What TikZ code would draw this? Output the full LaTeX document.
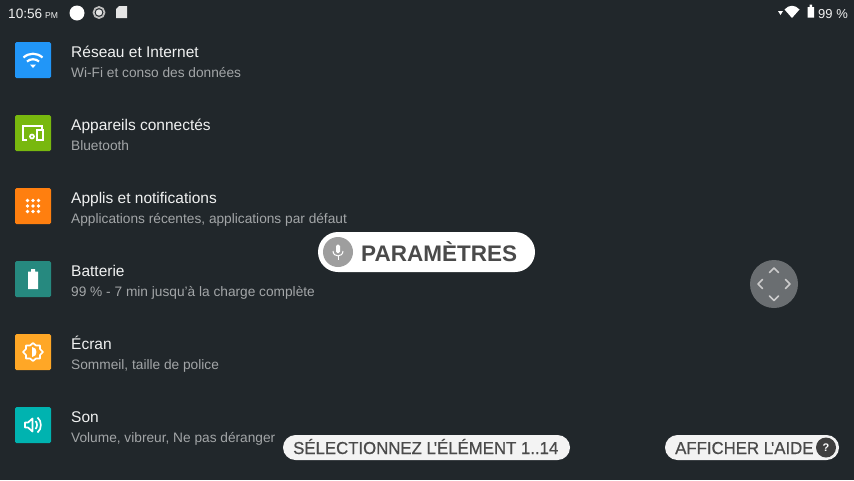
\documentclass[tikz,border=0pt]{standalone}
\usepackage{tikz, xcolor}
\usepackage{fontspec}
\setmainfont{Liberation Sans}
\newfontfamily\pillfont[FakeStretch=0.97,FakeBold=0.6]{Liberation Sans}
\definecolor{screenbg}{HTML}{21272B}
\definecolor{titlecol}{HTML}{F0F1F1}
\definecolor{subcol}{HTML}{A3A6A8}
\definecolor{pillcol}{HTML}{F3F3F3}
\definecolor{pilltext}{HTML}{4A4A4A}
\definecolor{wifiblue}{HTML}{2196F8}
\definecolor{devgreen}{HTML}{78B80E}
\definecolor{appsorange}{HTML}{FF7F0F}
\definecolor{battteal}{HTML}{26897F}
\definecolor{screenamber}{HTML}{FFA726}
\definecolor{soundcyan}{HTML}{00B3B0}
\tikzset{
    iconbox/.style={rounded corners=1.5, minimum width=36, minimum height=36, inner sep=0},
    titletext/.style={anchor=base west, inner sep=0, text=titlecol, font=\fontsize{15.5}{17}\selectfont},
    subtext/.style={anchor=base west, inner sep=0, text=subcol, font=\fontsize{13.7}{15}\selectfont},
    pilltxt/.style={anchor=base west, inner sep=0, text=pilltext, font=\pillfont\fontsize{17.3}{20}\selectfont},
    chev/.style={draw=white!80!black, line width=1.7, line cap=round, line join=round},
    icondraw/.style={draw=white, line width=2.2},
}
\begin{document}
\begin{tikzpicture}[x=1pt, y=-1pt]
    \fill[screenbg] (0,0) rectangle (854,480);
    \useasboundingbox (0,0) rectangle (854,480);

    % status bar
    \node[anchor=base west, inner sep=0, text=titlecol, font=\fontsize{13.6}{15}\selectfont] (clock) at (8,18) {10:56};
    \node[anchor=base west, inner sep=0, text=titlecol, font=\fontsize{8.6}{10}\selectfont] (ampm) at (45,18) {PM};
    \fill[white] (77,13) circle (7.5);
    \draw[white!75!black, line width=1.8] (99,12.5) circle (5.5);
    \fill[white!90!black] (99,12.5) circle (3.2);
    \fill[white!90!black] (116,9) -- (119,6) -- (127,6) -- (127,18) -- (116,18) -- cycle;
    \fill[white] (778,11) -- (783,11) -- (780.5,15) -- cycle;
    \fill[white] (784.5,9.5) .. controls (789,4.5) and (795,4.5) .. (799.5,9.5) -- (792,18) -- cycle;
    \fill[white] (807.5,7) -- (809.5,7) -- (809.5,4.5) -- (812,4.5) -- (812,7) -- (814,7) -- (814,17.5) -- (807.5,17.5) -- cycle;
    \node[anchor=base west, inner sep=0, text=titlecol, font=\fontsize{13}{15}\selectfont] (level) at (818,18) {99 \%};

    % settings rows
    \node[iconbox, fill=wifiblue] (wifi) at (33,60) {};
    \node[titletext] (wifit) at (71,57) {Réseau et Internet};
    \node[subtext] (wifis) at (71,77) {Wi-Fi et conso des données};

    \node[iconbox, fill=devgreen] (dev) at (33,133) {};
    \node[titletext] (devt) at (71,130) {Appareils connectés};
    \node[subtext] (devs) at (71,150) {Bluetooth};

    \node[iconbox, fill=appsorange] (apps) at (33,206) {};
    \node[titletext] (appst) at (71,203) {Applis et notifications};
    \node[subtext] (appss) at (71,223) {Applications récentes, applications par défaut};

    \node[iconbox, fill=battteal] (batt) at (33,279) {};
    \node[titletext] (battt) at (71,276) {Batterie};
    \node[subtext] (batts) at (71,296) {99 \% - 7 min jusqu'à la charge complète};

    \node[iconbox, fill=screenamber] (scr) at (33,352) {};
    \node[titletext] (scrt) at (71,349) {Écran};
    \node[subtext] (scrs) at (71,369) {Sommeil, taille de police};

    \node[iconbox, fill=soundcyan] (snd) at (33,425) {};
    \node[titletext] (sndt) at (71,422) {Son};
    \node[subtext] (snds) at (71,442) {Volume, vibreur, Ne pas déranger};

    % wifi glyph
    \draw[icondraw] (23.5,57.5) .. controls (29,52.5) and (37,52.5) .. (42.5,57.5);
    \draw[icondraw] (27,61.5) .. controls (30.5,58.5) and (35.5,58.5) .. (39,61.5);
    \fill[white] (30,64.5) -- (36,64.5) -- (33,68) -- cycle;

    % devices glyph
    \draw[white, line width=1.7] (27,140) -- (23,140) -- (23,126) -- (42,126) -- (42,129);
    \draw[white, line width=1.7] (37,130) rectangle (43,140);
    \draw[white, line width=1.7] (32,136.5) circle (2);

    % apps glyph
    \fill[white] (27.5,200.5) circle (1.9);
    \fill[white] (33,200.5) circle (1.9);
    \fill[white] (38.5,200.5) circle (1.9);
    \fill[white] (27.5,206) circle (1.9);
    \fill[white] (33,206) circle (1.9);
    \fill[white] (38.5,206) circle (1.9);
    \fill[white] (27.5,211.5) circle (1.9);
    \fill[white] (33,211.5) circle (1.9);
    \fill[white] (38.5,211.5) circle (1.9);

    % battery glyph
    \fill[white] (28,271.5) -- (31,271.5) -- (31,269) -- (35,269) -- (35,271.5) -- (38,271.5) -- (38,289) -- (28,289) -- cycle;

    % brightness glyph
    \draw[white, line width=1.7, line join=round] (33,343) -- (36,345.5) -- (40,345.5) -- (40,349) -- (43,352) -- (40,355) -- (40,358.5) -- (36,358.5) -- (33,361) -- (30,358.5) -- (26,358.5) -- (26,355) -- (23,352) -- (26,349) -- (26,345.5) -- (30,345.5) -- cycle;
    \fill[white] (32,347) .. controls (38,347) and (38,357) .. (32,357) -- cycle;

    % sound glyph
    \draw[white, line width=1.7, line join=round] (25,422.5) -- (28,422.5) -- (32.5,418.5) -- (32.5,431.5) -- (28,427.5) -- (25,427.5) -- cycle;
    \draw[white, line width=1.7] (35.5,421) .. controls (37.5,423) and (37.5,427) .. (35.5,429);
    \draw[white, line width=1.7] (37.5,417.5) .. controls (42,421) and (42,429) .. (37.5,432.5);

    % title pill
    \node[fill=white, rounded corners=20, minimum width=217, minimum height=40, inner sep=0] (pill) at (426.5,252) {};
    \fill[black!38] (338,252) circle (15);
    \fill[white, rounded corners=1.5] (336,244.5) rectangle (340,253);
    \draw[white, line width=1] (333,251) .. controls (333,257.5) and (343,257.5) .. (343,251);
    \draw[white, line width=1] (338,256) -- (338,260);
    \node[anchor=base west, inner sep=0, text=pilltext, font=\fontsize{22.5}{26}\bfseries\selectfont] (ptext) at (361,261) {PARAMÈTRES};

    % direction pad
    \node[circle, fill=white!33!screenbg, minimum size=48, inner sep=0] (pad) at (774,284) {};
    \draw[chev] (769.5,272.5) -- (774,268) -- (778.5,272.5);
    \draw[chev] (769.5,296) -- (774,300.5) -- (778.5,296);
    \draw[chev] (762.5,279.5) -- (758,284) -- (762.5,288.5);
    \draw[chev] (785.5,279.5) -- (790,284) -- (785.5,288.5);

    % bottom pills
    \node[fill=pillcol, rounded corners=12.5, minimum width=287, minimum height=25, inner sep=0] (sel) at (426.5,447.5) {};
    \node[pilltxt] (selt) at (293,454) {SÉLECTIONNEZ L\kern-2pt'ÉLÉMENT 1..14};

    \node[fill=pillcol, rounded corners=12.5, minimum width=174, minimum height=25, inner sep=0] (aide) at (752,447.5) {};
    \node[pilltxt] (aidet) at (675,454) {AFFICHER L\kern-2pt'AIDE};
    \node[circle, fill=pilltext!85!black, minimum size=20, inner sep=0, text=white, font=\fontsize{11}{12}\bfseries\selectfont] (help) at (826,447.5) {?};
\end{tikzpicture}
\end{document}
